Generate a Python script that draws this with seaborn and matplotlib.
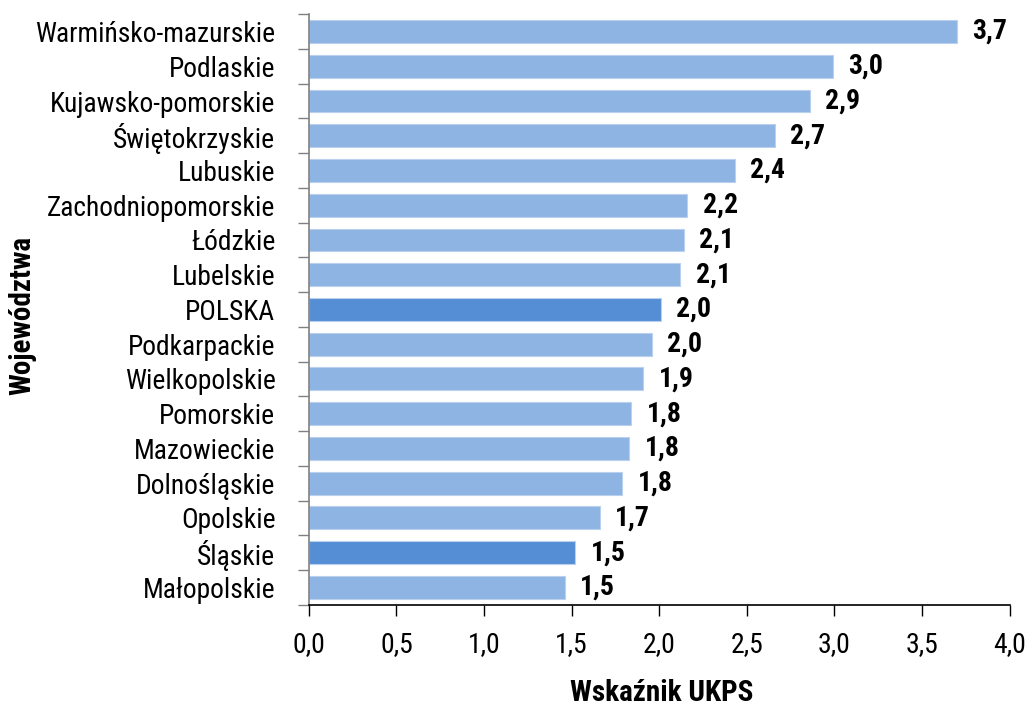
import pandas as pd
import seaborn as sns
import matplotlib.pyplot as plt
from matplotlib.ticker import MultipleLocator, FuncFormatter

# Dane: wskaźnik UKPS według województw
wojewodztwa = [
    "Warmińsko-mazurskie", "Podlaskie", "Kujawsko-pomorskie", "Świętokrzyskie",
    "Lubuskie", "Zachodniopomorskie", "Łódzkie", "Lubelskie", "POLSKA",
    "Podkarpackie", "Wielkopolskie", "Pomorskie", "Mazowieckie",
    "Dolnośląskie", "Opolskie", "Śląskie", "Małopolskie",
]
wartosci = [3.70, 2.99, 2.86, 2.66, 2.43, 2.16, 2.14, 2.12, 2.01,
            1.96, 1.91, 1.84, 1.83, 1.79, 1.66, 1.52, 1.46]
etykiety = ["3,7", "3,0", "2,9", "2,7", "2,4", "2,2", "2,1", "2,1", "2,0",
            "2,0", "1,9", "1,8", "1,8", "1,8", "1,7", "1,5", "1,5"]
wyroznione = ["POLSKA", "Śląskie"]

JASNY = "#8EB4E3"
CIEMNY = "#558ED5"


def main():
    df = pd.DataFrame({"woj": wojewodztwa, "ukps": wartosci})
    kolory = {w: (CIEMNY if w in wyroznione else JASNY) for w in wojewodztwa}

    sns.set_theme(style="white")
    plt.rcParams["font.family"] = ["Roboto Condensed", "DejaVu Sans"]
    plt.rcParams["text.color"] = "black"
    plt.rcParams["axes.labelcolor"] = "black"
    plt.rcParams["xtick.color"] = "black"
    plt.rcParams["ytick.color"] = "black"

    fig = plt.figure(figsize=(10.26, 7.09), dpi=100)
    ax = fig.add_axes([0.301, 0.147, 0.683, 0.833])

    sns.barplot(data=df, y="woj", x="ukps", hue="woj", palette=kolory,
                legend=False, width=0.66, orient="h", ax=ax, saturation=1,
                edgecolor="#B9D0EE", linewidth=0.8)

    # Etykiety wartości przy słupkach
    for cont, lab in zip(ax.containers, etykiety):
        ax.bar_label(cont, labels=[lab], padding=11, fontsize=20,
                     fontweight="bold", color="black")

    # Oś X
    ax.set_xlim(0, 4.0)
    ax.xaxis.set_major_locator(MultipleLocator(0.5))
    ax.xaxis.set_major_formatter(
        FuncFormatter(lambda v, p: f"{v:.1f}".replace(".", ",")))
    ax.tick_params(axis="x", which="major", direction="out", length=8,
                   width=1, color="black", labelsize=20, pad=11, bottom=True)
    ax.set_xlabel("")
    fig.text(0.645, 0.022, "Wskaźnik UKPS", fontsize=21, fontweight="bold",
             ha="center", va="center")

    # Oś Y - znaczniki między kategoriami
    ax.set_ylim(len(wojewodztwa) - 0.5, -0.5)
    ax.set_yticks(range(len(wojewodztwa)))
    ax.set_yticklabels(wojewodztwa)
    ax.set_yticks([i - 0.5 for i in range(len(wojewodztwa) + 1)], minor=True)
    ax.tick_params(axis="y", which="major", length=0, labelsize=19.8, pad=24)
    ax.tick_params(axis="y", which="minor", direction="out", length=8,
                   width=1, color="#808080", left=True)
    ax.set_ylabel("")
    fig.text(0.022, 0.555, "Województwa", fontsize=21, fontweight="bold",
             rotation=90, ha="center", va="center")

    for s in ["top", "right"]:
        ax.spines[s].set_visible(False)
    ax.spines["left"].set_color("#808080")
    ax.spines["left"].set_linewidth(1.2)
    ax.spines["bottom"].set_color("black")
    ax.spines["bottom"].set_linewidth(1.2)
    ax.grid(False)

    plt.savefig("out.png", dpi=100)


if __name__ == "__main__":
    main()
